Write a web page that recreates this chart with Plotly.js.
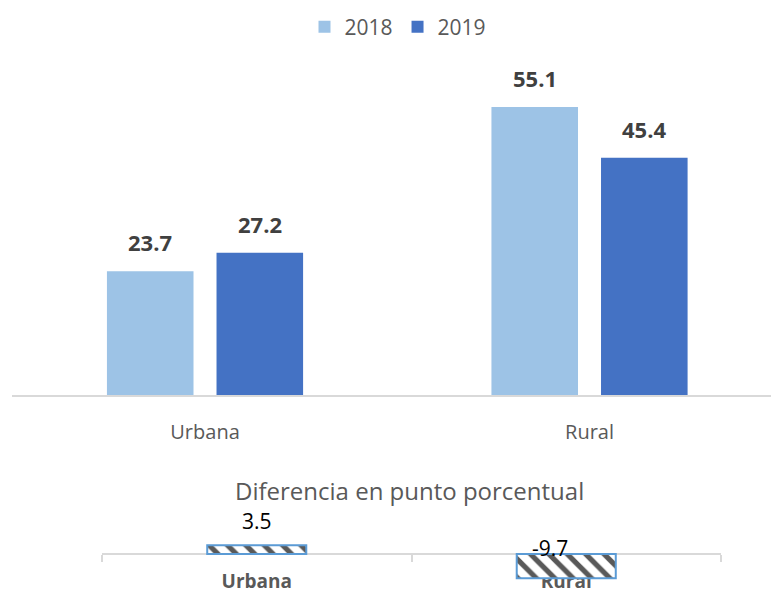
<!DOCTYPE html>
<html>
<head>
<meta charset="utf-8">
<script src="https://cdn.plot.ly/plotly-3.0.1.min.js"></script>
<style>
  html, body { margin: 0; padding: 0; background: #fff; }
  #myDiv { width: 771px; height: 596px; }
</style>
</head>
<body>
<div id="myDiv"></div>
<script>
var categories = ['Urbana', 'Rural'];
var years = ['2018', '2019'];
var values2018 = [23.7, 55.1];
var values2019 = [27.2, 45.4];
var difference = [3.5, -9.7];

var colors = ['#9dc3e6', '#4472c4'];
var bargap = 0.43;
var font = '"Open Sans", "DejaVu Sans", sans-serif';

var trace1 = {
  x: categories,
  y: values2018,
  name: years[0],
  type: 'bar',
  marker: { color: colors[0] },
  xaxis: 'x', yaxis: 'y',
  hoverinfo: 'none'
};

var trace2 = {
  x: categories,
  y: values2019,
  name: years[1],
  type: 'bar',
  marker: { color: colors[1] },
  xaxis: 'x', yaxis: 'y',
  hoverinfo: 'none'
};

var trace3 = {
  x: categories,
  y: difference,
  name: 'Diferencia',
  type: 'bar',
  width: 0.32,
  showlegend: false,
  marker: {
    color: 'white',
    line: { color: '#5b9bd5', width: 2 },
    pattern: { shape: '\\', fgcolor: '#595959', bgcolor: 'white', size: 13, solidity: 0.4 }
  },
  xaxis: 'x2', yaxis: 'y2',
  hoverinfo: 'none'
};

var data = [trace1, trace2, trace3];

// value labels above the top bars
var annotations = [];
var offset = (1 - bargap) / 4;
[values2018, values2019].forEach(function (vals, t) {
  vals.forEach(function (v, i) {
    annotations.push({
      xref: 'x', yref: 'y',
      x: i + (t === 0 ? -offset : offset), y: v,
      text: v.toFixed(1),
      showarrow: false,
      yanchor: 'bottom', yshift: 12,
      font: { family: font, size: 22, color: '#404040', weight: 'bold' }
    });
  });
});

// labels of the difference panel
difference.forEach(function (v, i) {
  annotations.push({
    xref: 'x2', yref: 'y2',
    x: i, y: v > 0 ? v : 0,
    text: v.toFixed(1),
    showarrow: false,
    yanchor: 'middle',
    xshift: v > 0 ? 0 : -16,
    yshift: v > 0 ? 24 : 6,
    font: { family: font, size: 21, color: '#000000' }
  });
});

annotations.push({
  xref: 'paper', yref: 'paper',
  x: 409 / 771, y: 1 - 490 / 596,
  text: 'Diferencia en punto porcentual',
  showarrow: false,
  xanchor: 'center', yanchor: 'middle',
  font: { family: font, size: 24, color: '#595959' }
});

var layout = {
  width: 771,
  height: 596,
  margin: { l: 0, r: 0, t: 0, b: 0 },
  paper_bgcolor: 'white',
  plot_bgcolor: 'white',
  barmode: 'group',
  bargap: bargap,
  bargroupgap: 0.21,
  font: { family: font, color: '#595959' },
  showlegend: true,
  legend: {
    orientation: 'h',
    x: 398 / 771, xanchor: 'center',
    y: 1 - 27 / 596, yanchor: 'middle',
    font: { family: font, size: 21, color: '#595959' },
    itemwidth: 30,
    traceorder: 'normal'
  },
  xaxis: {
    domain: [12 / 771, 1],
    range: [-0.502, 1.472],
    type: 'category',
    showline: true, linecolor: '#d9d9d9', linewidth: 2,
    showgrid: false, zeroline: false,
    ticks: '',
    ticklabelstandoff: 18,
    tickfont: { family: font, size: 20, color: '#595959' },
    fixedrange: true
  },
  yaxis: {
    domain: [1 - 395 / 596, 1 - 81.4 / 596],
    range: [0, 60],
    visible: false,
    fixedrange: true
  },
  xaxis2: {
    domain: [102 / 771, 721 / 771],
    range: [-0.5, 1.5],
    type: 'category',
    anchor: 'free',
    position: 1 - 554 / 596,
    showline: true, linecolor: '#d9d9d9', linewidth: 2,
    layer: 'below traces',
    showgrid: false, zeroline: false,
    ticks: 'outside', tickson: 'boundaries', ticklen: 7, tickcolor: '#d9d9d9', tickwidth: 2,
    ticklabelstandoff: 10,
    tickfont: { family: font, size: 19, color: '#595959', weight: 'bold' },
    fixedrange: true
  },
  yaxis2: {
    domain: [1 - 590 / 596, 1 - 530 / 596],
    range: [-14.4, 9.6],
    visible: false,
    zeroline: false,
    fixedrange: true
  },
  annotations: annotations
};

Plotly.newPlot('myDiv', data, layout, { displayModeBar: false, staticPlot: true });
</script>
</body>
</html>
